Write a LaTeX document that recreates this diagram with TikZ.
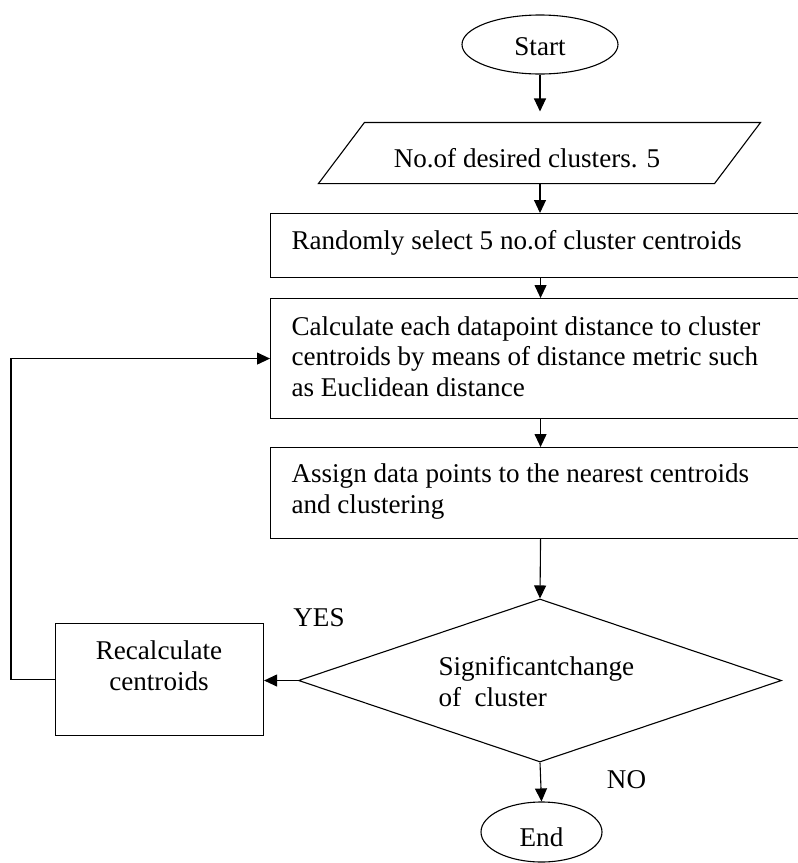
\documentclass[tikz,border=0pt]{standalone}
\usepackage{fontspec}
\setmainfont{Liberation Serif}
\usetikzlibrary{shapes.geometric,arrows.meta}
\begin{document}
\begin{tikzpicture}[x=1pt,y=-1pt, line width=1.1pt,
  every node/.style={font=\fontsize{27.1}{31.5}\selectfont, inner sep=0pt},
  box/.style={draw, rectangle, anchor=north west},
  oval/.style={draw, ellipse},
  txt/.style={anchor=base west},
  ctxt/.style={anchor=base},
  arr/.style={-{Triangle[length=13pt,width=12pt]}}]
\useasboundingbox (0,0) rectangle (798,863);
\clip (0,0) rectangle (798,863);

% start
\node[oval, minimum width=156pt, minimum height=59pt] (st) at (540,44.5) {};
\node[ctxt] (sttext) at (540,55) {Start};

% input parallelogram
\node[minimum width=441pt, minimum height=60pt] (para) at (539.5,153) {};
\draw ([xshift=46pt]para.north west) -- (para.north east) -- ([xshift=-46pt]para.south east) -- (para.south west) -- cycle;
\node[ctxt] (paratext) at (527,167) {No.of desired clusters. 5};

% process boxes
\node[box, minimum width=540pt, minimum height=64pt] (r1) at (270,213) {};
\node[txt] (t1) at (291,249) {Randomly select 5 no.of cluster centroids};

\node[box, minimum width=540pt, minimum height=120pt] (r2) at (270,298) {};
\node[txt] (t2a) at (291,335) {Calculate each datapoint distance to cluster};
\node[txt] (t2b) at (291,365.5) {centroids by means of distance metric such};
\node[txt] (t2c) at (291,396) {as Euclidean distance};

\node[box, minimum width=540pt, minimum height=91pt] (r3) at (270,447) {};
\node[txt] (t3a) at (291,482) {Assign data points to the nearest centroids};
\node[txt] (t3b) at (291,513) {and clustering};

% decision
\node[draw, diamond, minimum width=483pt, minimum height=163pt] (dia) at (540,680.5) {};
\node[txt] (d1) at (438,675) {Significantchange};
\node[txt] (d2) at (438,706) {of\ \ cluster};

% recalculate
\node[box, minimum width=208pt, minimum height=112pt] (rc) at (55,623) {};
\node[ctxt] (rc1) at (159,659) {Recalculate};
\node[ctxt] (rc2) at (159,690) {centroids};

% labels
\node[ctxt] (yes) at (319,626) {YES};
\node[ctxt] (no) at (626.5,788) {NO};

% end
\node[oval, minimum width=121pt, minimum height=60pt] (en) at (541.5,832) {};
\node[ctxt] (entext) at (541.5,846) {End};

% connectors
\draw[arr] (st.south) -- ([yshift=11pt]para.north -| st.south);
\draw[arr] (para.south -| st.south) -- (r1.north -| st.south);
\draw[arr] (r1.south) -- (r2.north);
\draw[arr] (r2.south) -- (r3.north);
\draw[arr] (r3.south) -- (dia.north);
\draw[arr] (dia.west) -- (dia.west -| rc.east);
\draw[arr] (rc.west) -- ++(-44,0) |- (r2.west);
\draw[arr] (dia.south) -- (en.north);
\end{tikzpicture}
\end{document}
